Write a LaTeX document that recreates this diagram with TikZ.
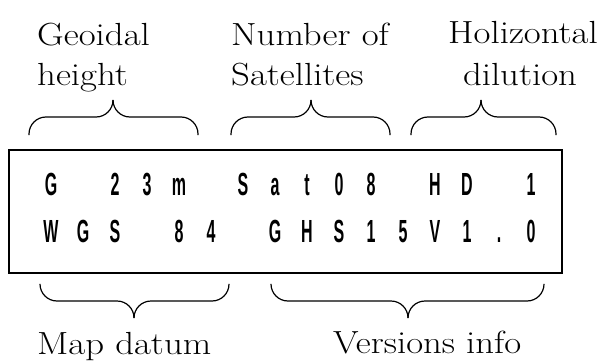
\documentclass[tikz,border=0pt]{standalone}
\usepackage{fontspec}
\usepackage{tikz}
\newfontfamily\notefont[FakeStretch=1.15]{Latin Modern Roman}
\newfontfamily\lcdfont[FakeStretch=0.5]{Liberation Sans}

\begin{document}
\begin{tikzpicture}[
  x=1pt,
  y=-1pt,
  note/.style={font=\notefont\fontsize{32}{39}\selectfont, inner sep=0pt},
  lcd/.style={font=\lcdfont\bfseries\fontsize{32}{36}\selectfont, inner sep=0pt, anchor=base},
  panel/.style={draw, line width=1.6pt},
  curly/.style={draw, line width=1.2pt, rounded corners=17pt}
]
\useasboundingbox (0,0) rectangle (602,361);

% labels above the display
\node[note, anchor=base west] (geoA) at (37,46) {Geoidal};
\node[note, anchor=base west] (geoB) at (37,85) {height};
\node[note, anchor=base west] (satA) at (231,46) {Number of};
\node[note, anchor=base west] (satB) at (231,85) {Satellites};
\node[note, anchor=base] (hdopA) at (523,44) {Holizontal};
\node[note, anchor=base] (hdopB) at (520,85) {dilution};

% the LCD panel
\draw[panel] (9,150) rectangle (562,273);
\foreach \ch/\col in {G/0,2/2,3/3,m/4,S/6,a/7,t/8,0/9,8/10,H/12,D/13,1/15}
  \node[lcd] (top\col) at ({51+32*\col},195) {\ch};
\foreach \ch/\col in {W/0,G/1,S/2,8/4,4/5,G/7,H/8,S/9,1/10,5/11,V/12,1/13,./14,0/15}
  \node[lcd] (bot\col) at ({51+32*\col},242) {\ch};

% braces
\draw[curly] (29,135) |- (113,117) -- (113,100);
\draw[curly] (198,135) |- (113,117) -- (113,100);
\draw[curly] (231,135) |- (311,117) -- (311,100);
\draw[curly] (390,135) |- (311,117) -- (311,100);
\draw[curly] (411,135) |- (481,117) -- (481,100);
\draw[curly] (556,135) |- (481,117) -- (481,100);
\draw[curly] (40,285) |- (134,301) -- (134,318);
\draw[curly] (229,285) |- (134,301) -- (134,318);
\draw[curly] (271,285) |- (408,301) -- (408,318);
\draw[curly] (544,285) |- (408,301) -- (408,318);

% labels below the display
\node[note, anchor=base west] (datum) at (37,354) {Map datum};
\node[note, anchor=base west] (version) at (333,353) {Versions info};
\end{tikzpicture}
\end{document}
